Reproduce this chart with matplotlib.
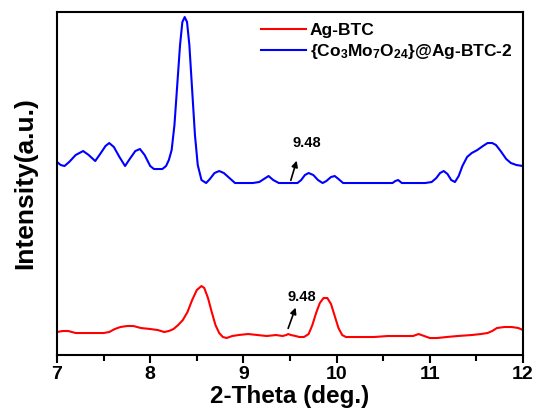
import matplotlib
matplotlib.use("Agg")
import matplotlib.pyplot as plt
from matplotlib.ticker import MultipleLocator, NullLocator

plt.rcParams["font.family"] = ["Liberation Sans", "DejaVu Sans"]
plt.rcParams["font.weight"] = "bold"
plt.rcParams["mathtext.default"] = "regular"

# XRD patterns (2-theta in deg, intensity in arbitrary units)
ag_btc_x = [7.00, 7.06, 7.12, 7.20, 7.30, 7.40, 7.50, 7.56, 7.62, 7.68, 7.75, 7.82,
            7.90, 8.00, 8.08, 8.15, 8.20, 8.25, 8.30, 8.35, 8.40, 8.45, 8.50, 8.55,
            8.58, 8.62, 8.66, 8.70, 8.74, 8.78, 8.82, 8.88, 8.95, 9.05, 9.15, 9.25,
            9.35, 9.42, 9.46, 9.48, 9.51, 9.56, 9.60, 9.65, 9.70, 9.74, 9.78, 9.82,
            9.86, 9.90, 9.94, 9.98, 10.02, 10.06, 10.10, 10.25, 10.40, 10.55, 10.70,
            10.82, 10.88, 10.94, 11.00, 11.08, 11.18, 11.30, 11.45, 11.55, 11.62,
            11.67, 11.72, 11.80, 11.88, 11.95, 12.00]
ag_btc_y = [6, 7, 7, 5, 5, 5, 5, 6, 9, 11, 12, 12,
            10, 9, 8, 6, 7, 9, 13, 18, 26, 38, 48, 52,
            50, 40, 26, 13, 5, 1, 0, 2, 3, 4, 3, 2,
            3, 2, 3, 4, 3, 2, 1, 1, 4, 13, 25, 35,
            40, 40, 34, 22, 10, 3, 1, 1, 1, 2, 2,
            2, 4, 2, 0, 0, 1, 2, 3, 4, 5,
            7, 10, 11, 11, 10, 8]

composite_x = [7.00, 7.04, 7.08, 7.13, 7.20, 7.28, 7.34, 7.41, 7.47, 7.52, 7.56, 7.61,
               7.67, 7.73, 7.78, 7.84, 7.89, 7.94, 8.00, 8.04, 8.13, 8.17, 8.20, 8.23,
               8.26, 8.29, 8.32, 8.345, 8.37, 8.395, 8.42, 8.45, 8.48, 8.51, 8.55, 8.60,
               8.64, 8.69, 8.74, 8.79, 8.85, 8.91, 9.00, 9.10, 9.17, 9.22, 9.27, 9.32,
               9.38, 9.58, 9.62, 9.66, 9.70, 9.75, 9.80, 9.85, 9.89, 9.94, 9.98, 10.02,
               10.07, 10.60, 10.63, 10.66, 10.70, 10.95, 11.02, 11.07, 11.11, 11.15,
               11.19, 11.23, 11.27, 11.31, 11.35, 11.40, 11.45, 11.51, 11.57, 11.62,
               11.67, 11.71, 11.76, 11.82, 11.87, 11.93, 12.00]
composite_y = [21, 18, 17, 21, 28, 32, 28, 22, 30, 37, 40, 36,
               26, 17, 24, 32, 34, 28, 17, 14, 14, 17, 23, 33,
               58, 98, 138, 161, 166, 161, 138, 93, 48, 18, 3, 0,
               4, 10, 12, 10, 5, 0, 0, 0, 1, 4, 7, 3,
               0, 0, 3, 8, 10, 8, 3, 0, 2, 6, 7, 4,
               0, 0, 2, 3, 0, 0, 1, 5, 10, 12,
               9, 3, 1, 7, 17, 26, 30, 33, 37, 40,
               40, 38, 32, 24, 20, 18, 17]

ag_btc_offset = 17
composite_offset = 172

fig = plt.figure(figsize=(5.4, 4.16), dpi=100)
ax = fig.add_axes([0.1056, 0.1466, 0.8629, 0.8245])

ax.plot(ag_btc_x, [v + ag_btc_offset for v in ag_btc_y], color="#ff0000", lw=1.5,
        label="Ag-BTC", solid_joinstyle="round")
ax.plot(composite_x, [v + composite_offset for v in composite_y], color="#0000ff", lw=1.5,
        label="{Co$_3$Mo$_7$O$_{24}$}@Ag-BTC-2", solid_joinstyle="round")

# mark the weak reflection at 9.48 in both patterns
arrow = dict(arrowstyle="-|>", color="black", lw=1.2, mutation_scale=9)
ax.annotate("", xy=(9.57, 50), xytext=(9.47, 24), arrowprops=arrow)
ax.text(9.47, 58, "9.48", fontsize=10.5, fontweight="bold", va="center")
ax.annotate("", xy=(9.58, 197), xytext=(9.50, 172), arrowprops=arrow)
ax.text(9.53, 212, "9.48", fontsize=10.5, fontweight="bold", va="center")

ax.set_xlim(7, 12)
ax.set_ylim(0, 343)
ax.xaxis.set_major_locator(MultipleLocator(1))
ax.xaxis.set_minor_locator(MultipleLocator(0.5))
ax.yaxis.set_major_locator(NullLocator())
ax.tick_params(axis="x", which="major", direction="out", length=6, width=1.5,
               labelsize=14, pad=2)
ax.tick_params(axis="x", which="minor", direction="out", length=4, width=1.5)
for sp in ax.spines.values():
    sp.set_linewidth(1.5)

ax.set_xlabel("2-Theta (deg.)", fontsize=17.5, fontweight="bold", labelpad=1)
ax.set_ylabel("Intensity(a.u.)", fontsize=19, fontweight="bold", labelpad=14)

ax.legend(loc="upper right", frameon=False, fontsize=12.5, handlelength=2.6,
          handletextpad=0.25, borderaxespad=0.2, labelspacing=0.25,
          bbox_to_anchor=(1.0, 1.0))

fig.savefig("out.png", dpi=100)
